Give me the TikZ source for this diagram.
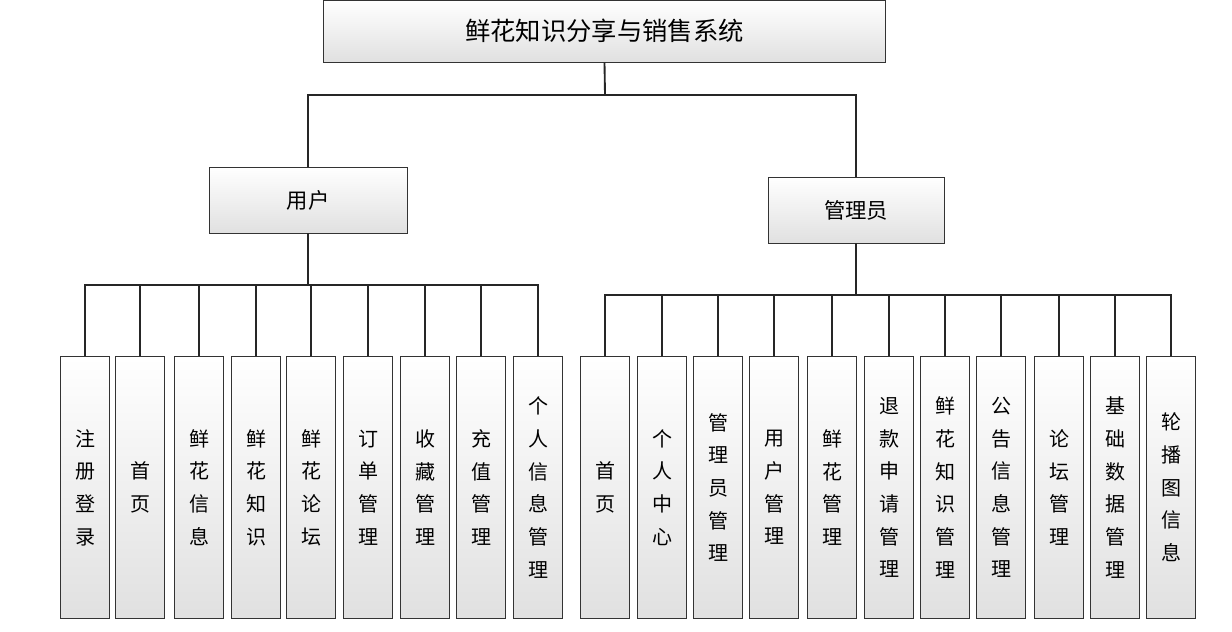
\documentclass[tikz,border=0pt]{standalone}
\usepackage{fontspec}
\newfontfamily\cjk{Noto Sans CJK SC}
\begin{document}
\begin{tikzpicture}[x=0.75pt,y=-0.75pt,
  box/.style={draw=black!80,line width=0.6pt,top color=white,bottom color=black!12,inner sep=0pt,font=\cjk},
  leaf/.style={box,minimum width=36.5pt,minimum height=196pt,align=center,font=\cjk\fontsize{15}{24.5}\selectfont},
  ln/.style={line width=1.4pt,black!85}]
\useasboundingbox (0,0) rectangle (1232,632);
\node[box,minimum width=422pt,minimum height=46.5pt,font=\cjk\fontsize{19}{22}\selectfont] (root) at (604.5,31) {鲜花知识分享与销售系统};
\node[box,minimum width=148.5pt,minimum height=49.5pt,font=\cjk\fontsize{16}{18}\selectfont] (user) at (308,200) {用户};
\node[box,minimum width=132pt,minimum height=49.5pt,font=\cjk\fontsize{16}{18}\selectfont] (admin) at (856,210) {管理员};
\coordinate (rb) at (605,95);
\draw[ln] (root.south) -- (rb);
\draw[ln] (user.north) |- (rb) -| (admin.north);
\foreach \n/\x/\t in {u1/85/注\\册\\登\\录, u2/140/首\\页, u3/199/鲜\\花\\信\\息, u4/256/鲜\\花\\知\\识, u5/311/鲜\\花\\论\\坛, u6/368/订\\单\\管\\理, u7/425/收\\藏\\管\\理, u8/481/充\\值\\管\\理, u9/538/个\\人\\信\\息\\管\\理}
 {\node[leaf] (\n) at (\x,487.5) {\t};}
\foreach \n/\x/\t in {a1/605/首\\页, a2/662/个\\人\\中\\心, a3/718/管\\理\\员\\管\\理, a4/774/用\\户\\管\\理, a5/832/鲜\\花\\管\\理, a6/889/退\\款\\申\\请\\管\\理, a7/945/鲜\\花\\知\\识\\管\\理, a8/1001/公\\告\\信\\息\\管\\理, a9/1059/论\\坛\\管\\理, a10/1115/基\\础\\数\\据\\管\\理, a11/1171/轮\\播\\图\\信\\息}
 {\node[leaf] (\n) at (\x,487.5) {\t};}
\coordinate (ub) at (308,285);
\coordinate (ab) at (856,295);
\draw[ln] (user.south) -- (ub);
\draw[ln] (admin.south) -- (ab);
\foreach \n in {u1,u2,u3,u4,u5,u6,u7,u8,u9} \draw[ln] (\n.north) |- (ub);
\foreach \n in {a1,a2,a3,a4,a5,a6,a7,a8,a9,a10,a11} \draw[ln] (\n.north) |- (ab);
\end{tikzpicture}
\end{document}
